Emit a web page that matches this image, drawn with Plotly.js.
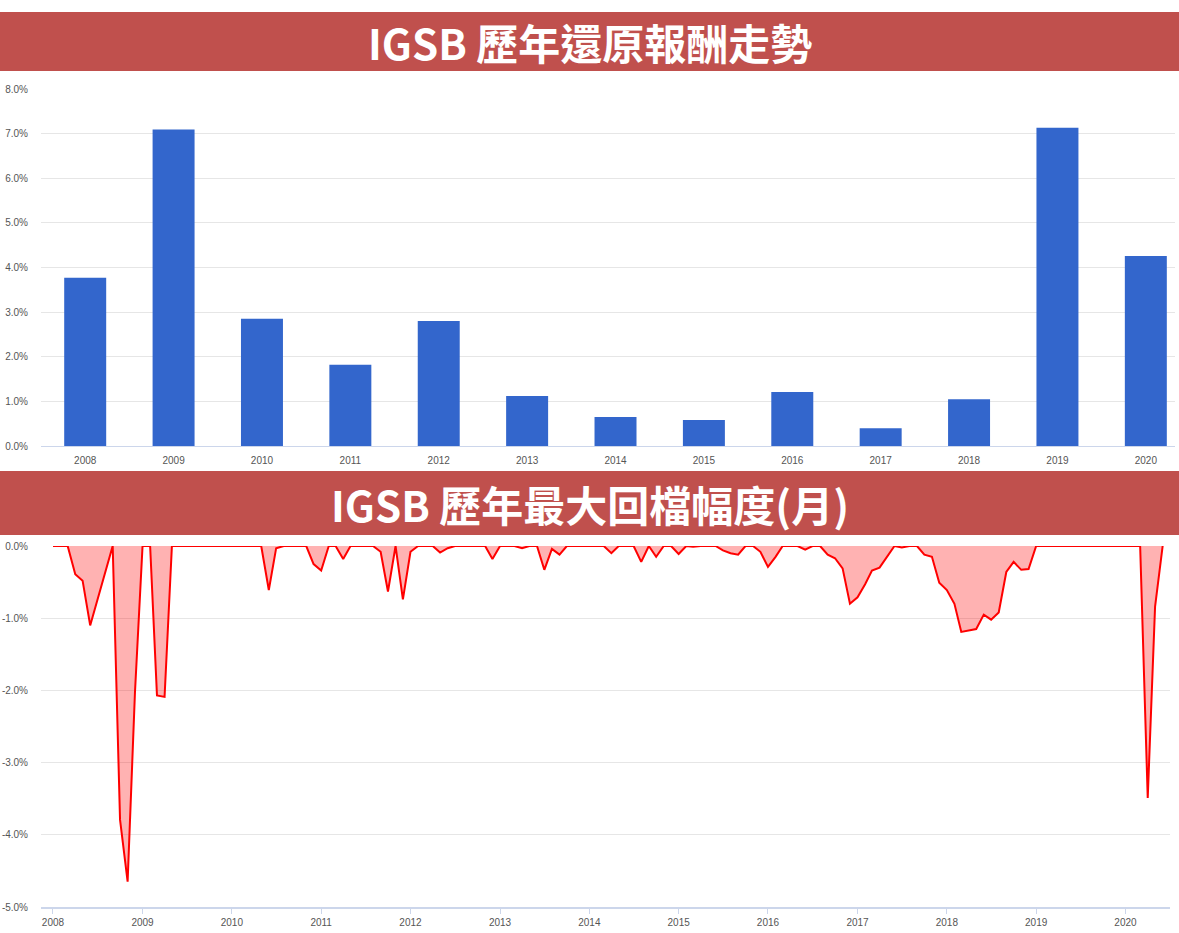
<!DOCTYPE html>
<html>
<head>
<meta charset="utf-8">
<script src="https://cdn.plot.ly/plotly-3.0.1.min.js"></script>
<style>
  html, body { margin: 0; padding: 0; background: #fff; }
  #chart { width: 1179px; height: 933px; }
</style>
</head>
<body>
<div id="chart"></div>
<script>
// annual total return (%)
var years = ['2008', '2009', '2010', '2011', '2012', '2013', '2014', '2015', '2016', '2017', '2018', '2019', '2020'];
var annualReturn = [3.77, 7.09, 2.85, 1.82, 2.80, 1.12, 0.65, 0.58, 1.21, 0.40, 1.05, 7.13, 4.26];

// monthly drawdown (%), Jan 2008 .. Jun 2020
var ddStart = [2008, 1];
var drawdown = [
  0, 0, 0, -0.39, -0.48, -1.10, -0.74, -0.37, 0, -3.79, -4.65, -2.03,   // 2008
  0, 0, -2.07, -2.09, 0, 0, 0, 0, 0, 0, 0, 0,                           // 2009
  0, 0, 0, 0, 0, -0.61, -0.03, 0, 0, 0, 0, -0.25,                       // 2010
  -0.34, 0, 0, -0.18, 0, 0, 0, 0, -0.08, -0.63, 0, -0.74,               // 2011
  -0.08, 0, 0, 0, -0.09, -0.03, 0, 0, 0, 0, 0, -0.18,                   // 2012
  0, 0, 0, -0.03, 0, 0, -0.33, -0.04, -0.12, 0, 0, 0,                   // 2013
  0, 0, 0, -0.10, 0, 0, 0, -0.22, 0, -0.15, 0, 0,                       // 2014
  -0.11, 0, -0.01, 0, 0, 0, -0.06, -0.10, -0.12, 0, 0, -0.08,           // 2015
  -0.29, -0.15, 0, 0, 0, -0.05, 0, 0, -0.12, -0.17, -0.31, -0.80,       // 2016
  -0.71, -0.53, -0.34, -0.30, -0.15, 0, -0.02, 0, 0, -0.12, -0.15, -0.51, // 2017
  -0.61, -0.80, -1.19, -1.17, -1.15, -0.95, -1.02, -0.92, -0.36, -0.22, -0.33, -0.32, // 2018
  0, 0, 0, 0, 0, 0, 0, 0, 0, 0, 0, 0,                                   // 2019
  0, 0, 0, -3.49, -0.84, 0                                              // 2020
];

var topTicks = [0, 1, 2, 3, 4, 5, 6, 7, 8];
var bottomTicks = [0, -1, -2, -3, -4, -5];

var W = 1179, H = 933;
function px(p) { return p / W; }
function py(p) { return 1 - p / H; }

var ddDates = [];
for (var i = 0; i < drawdown.length; i++) {
  var m = ddStart[1] - 1 + i;
  var y = ddStart[0] + Math.floor(m / 12);
  var mm = (m % 12) + 1;
  ddDates.push(y + '-' + (mm < 10 ? '0' + mm : mm) + '-01');
}

function pctText(arr) {
  return arr.map(function (v) { return v.toFixed(1) + '%'; });
}

var tickFont = { family: 'Liberation Sans, Arial, sans-serif', size: 10, color: '#555' };
var titleFont = { family: 'Noto Sans CJK TC, sans-serif', size: 42, color: '#ffffff', weight: 'bold' };

var data = [
  {
    type: 'bar',
    x: years,
    y: annualReturn,
    marker: { color: '#3366cc' },
    xaxis: 'x',
    yaxis: 'y',
    hoverinfo: 'x+y'
  },
  {
    type: 'scatter',
    mode: 'lines',
    x: ddDates,
    y: drawdown,
    line: { color: '#ff0000', width: 2 },
    fill: 'tozeroy',
    fillcolor: 'rgba(255,0,0,0.3)',
    xaxis: 'x2',
    yaxis: 'y2'
  }
];

var layout = {
  width: W,
  height: H,
  margin: { l: 0, r: 0, t: 0, b: 0 },
  paper_bgcolor: '#ffffff',
  plot_bgcolor: '#ffffff',
  showlegend: false,
  bargap: 0.525,
  xaxis: {
    domain: [px(41), px(1175)],
    type: 'category',
    range: [-0.5, 12.33],
    showline: true,
    linecolor: '#ccd6eb',
    linewidth: 1,
    ticks: '',
    showgrid: false,
    tickfont: tickFont,
    ticklabelstandoff: 5,
    anchor: 'y',
    fixedrange: true
  },
  yaxis: {
    domain: [py(446), py(89)],
    range: [0, 8],
    tickvals: topTicks,
    ticktext: pctText(topTicks),
    gridcolor: '#e6e6e6',
    zeroline: false,
    showline: false,
    tickfont: tickFont,
    ticklabelstandoff: 12,
    anchor: 'x',
    fixedrange: true
  },
  xaxis2: {
    domain: [px(41), px(1170)],
    type: 'date',
    range: ['2007-11-13', '2020-07-01'],
    tick0: '2008-01-01',
    dtick: 'M12',
    tickformat: '%Y',
    showline: true,
    linecolor: '#ccd6eb',
    linewidth: 2,
    ticks: 'outside',
    ticklen: 5,
    tickcolor: '#ccd6eb',
    showgrid: false,
    tickfont: tickFont,
    anchor: 'y2',
    fixedrange: true
  },
  yaxis2: {
    domain: [py(907), py(546)],
    range: [-5, 0],
    tickvals: bottomTicks,
    ticktext: pctText(bottomTicks),
    gridcolor: '#e6e6e6',
    zeroline: false,
    showline: false,
    tickfont: tickFont,
    ticklabelstandoff: 12,
    anchor: 'x2',
    fixedrange: true
  },
  shapes: [
    { type: 'rect', xref: 'paper', yref: 'paper', x0: 0, x1: 1, y0: py(71), y1: py(12),
      fillcolor: '#c0504d', line: { width: 0 }, layer: 'above' },
    { type: 'rect', xref: 'paper', yref: 'paper', x0: 0, x1: 1, y0: py(535), y1: py(471),
      fillcolor: '#c0504d', line: { width: 0 }, layer: 'above' }
  ],
  annotations: [
    { text: 'IGSB 歷年還原報酬走勢', xref: 'paper', yref: 'paper', x: 0.5, y: py(41),
      xanchor: 'center', yanchor: 'middle', showarrow: false, font: titleFont },
    { text: 'IGSB 歷年最大回檔幅度(月)', xref: 'paper', yref: 'paper', x: 0.5, y: py(503),
      xanchor: 'center', yanchor: 'middle', showarrow: false, font: titleFont }
  ]
};

Plotly.newPlot('chart', data, layout, { displayModeBar: false, staticPlot: true });
</script>
</body>
</html>
